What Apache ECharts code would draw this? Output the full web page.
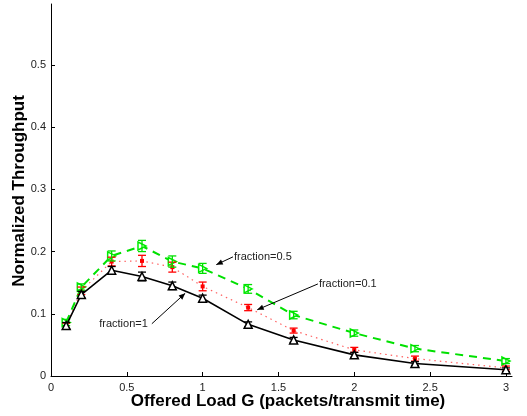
<!DOCTYPE html>
<html><head><meta charset="utf-8">
<script src="https://cdn.jsdelivr.net/npm/echarts@6/dist/echarts.min.js"></script>
<style>html,body{margin:0;padding:0;background:#fff}#c{width:527px;height:416px}</style>
</head><body><div id="c"></div>
<script>
var G = [0.1, 0.2, 0.4, 0.6, 0.8, 1.0, 1.3, 1.6, 2.0, 2.4, 3.0];
var frac1 = [0.081, 0.131, 0.170, 0.160, 0.145, 0.125, 0.083, 0.058, 0.034, 0.020, 0.010];
var frac1Err = [0.005, 0.005, 0.006, 0.007, 0.006, 0.005, 0.004, 0.004, 0.004, 0.003, 0.003];
var frac01 = [0.080, 0.137, 0.184, 0.185, 0.175, 0.144, 0.110, 0.073, 0.042, 0.028, 0.013];
var frac01Err = [0.005, 0.006, 0.007, 0.009, 0.008, 0.007, 0.005, 0.004, 0.004, 0.004, 0.003];
var frac05 = [0.086, 0.143, 0.193, 0.209, 0.184, 0.173, 0.140, 0.098, 0.069, 0.044, 0.024];
var frac05Err = [0.005, 0.005, 0.008, 0.009, 0.009, 0.008, 0.007, 0.006, 0.005, 0.005, 0.004];
var xTicks = [0, 0.5, 1, 1.5, 2, 2.5, 3];
var yTicks = [0, 0.1, 0.2, 0.3, 0.4, 0.5];
var annotations = [
  {text: 'fraction=0.5', from: [1.20, 0.1915], to: [1.09, 0.179], align: 'left'},
  {text: 'fraction=0.1', from: [1.76, 0.148], to: [1.36, 0.1065], align: 'left'},
  {text: 'fraction=1', from: [0.665, 0.084], to: [0.885, 0.133], align: 'right'}
];

function pairs(ys) { return G.map(function (x, i) { return [x, ys[i]]; }); }
function errData(ys, es) { return G.map(function (x, i) { return [x, ys[i] - es[i], ys[i] + es[i]]; }); }
function errSeries(ys, es, color) {
  return {
    type: 'custom', data: errData(ys, es), z: 3, silent: true,
    renderItem: function (params, api) {
      var lo = api.coord([api.value(0), api.value(1)]);
      var hi = api.coord([api.value(0), api.value(2)]);
      var w = 4;
      var st = {stroke: color, lineWidth: 1.3};
      return {type: 'group', children: [
        {type: 'line', shape: {x1: lo[0], y1: lo[1], x2: hi[0], y2: hi[1]}, style: st},
        {type: 'line', shape: {x1: lo[0] - w, y1: lo[1], x2: lo[0] + w, y2: lo[1]}, style: st},
        {type: 'line', shape: {x1: hi[0] - w, y1: hi[1], x2: hi[0] + w, y2: hi[1]}, style: st}
      ]};
    }
  };
}

var chart = echarts.init(document.getElementById('c'));
var txt = {color: '#222', fontFamily: 'Liberation Sans, Arial, sans-serif', fontSize: 11};
var option = {
  animation: false,
  grid: {left: 51, right: 15, top: 4, bottom: 40},
  xAxis: {
    type: 'value', min: 0, max: 3.04, interval: 0.5,
    axisLine: {lineStyle: {color: '#000', width: 1}},
    axisTick: {inside: true, length: 4, lineStyle: {color: '#000'}, customValues: xTicks},
    axisLabel: Object.assign({margin: 6, customValues: xTicks, formatter: function (v) { return String(v); }}, txt),
    splitLine: {show: false}
  },
  yAxis: {
    type: 'value', min: 0, max: 0.598, interval: 0.1,
    axisLine: {show: true, lineStyle: {color: '#000', width: 1}},
    axisTick: {show: true, inside: true, length: 4, lineStyle: {color: '#000'}, customValues: yTicks},
    axisLabel: Object.assign({margin: 5, customValues: yTicks, formatter: function (v) { return String(v); }}, txt),
    splitLine: {show: false}
  },
  series: [
    {type: 'line', data: pairs(frac01), z: 2, symbol: 'rect', symbolSize: [4, 4],
      itemStyle: {color: '#ff0000'},
      lineStyle: {color: '#ff6060', width: 1.2, type: [1.5, 4]}},
    errSeries(frac01, frac01Err, '#ff0000'),
    {type: 'line', data: pairs(frac05), z: 2, symbol: 'triangle', symbolSize: 8, symbolRotate: -90,
      itemStyle: {color: '#fff', borderColor: '#00ee00', borderWidth: 1.5},
      lineStyle: {color: '#00e000', width: 2, type: [8, 6]}},
    errSeries(frac05, frac05Err, '#00e000'),
    {type: 'line', data: pairs(frac1), z: 4, symbol: 'triangle', symbolSize: 8,
      itemStyle: {color: '#fff', borderColor: '#000', borderWidth: 1.5},
      lineStyle: {color: '#000', width: 1.6}},
    errSeries(frac1, frac1Err, '#000')
  ]
};
chart.setOption(option);

var graphics = [
  {type: 'text', left: 'center', x: 0, style: {}, invisible: true}
];
graphics = [];
annotations.forEach(function (a) {
  var p1 = chart.convertToPixel({gridIndex: 0}, a.from);
  var p2 = chart.convertToPixel({gridIndex: 0}, a.to);
  var ang = Math.atan2(p2[1] - p1[1], p2[0] - p1[0]);
  var L = 7, W = 0.4;
  graphics.push({type: 'line', shape: {x1: p1[0], y1: p1[1], x2: p2[0], y2: p2[1]}, style: {stroke: '#000', lineWidth: 1}, z: 10});
  graphics.push({type: 'polygon', shape: {points: [
    [p2[0], p2[1]],
    [p2[0] - L * Math.cos(ang - W), p2[1] - L * Math.sin(ang - W)],
    [p2[0] - L * Math.cos(ang + W), p2[1] - L * Math.sin(ang + W)]
  ]}, style: {fill: '#000'}, z: 10});
  graphics.push({type: 'text', x: a.align === 'left' ? p1[0] + 1 : p1[0] - 4, y: p1[1],
    style: {text: a.text, fill: '#222', font: '11px "Liberation Sans", Arial, sans-serif',
      textAlign: a.align, textVerticalAlign: 'middle'}, z: 10});
});
graphics.push({type: 'text', x: 288, y: 401, style: {text: 'Offered Load G (packets/transmit time)', fill: '#000',
  font: 'bold 17px "Liberation Sans", Arial, sans-serif', textAlign: 'center', textVerticalAlign: 'middle'}});
graphics.push({type: 'text', x: 19, y: 191, rotation: Math.PI / 2, style: {text: 'Normalized Throughput', fill: '#000',
  font: 'bold 17px "Liberation Sans", Arial, sans-serif', textAlign: 'center', textVerticalAlign: 'middle'}});
chart.setOption({graphic: graphics});
</script>
</body></html>
